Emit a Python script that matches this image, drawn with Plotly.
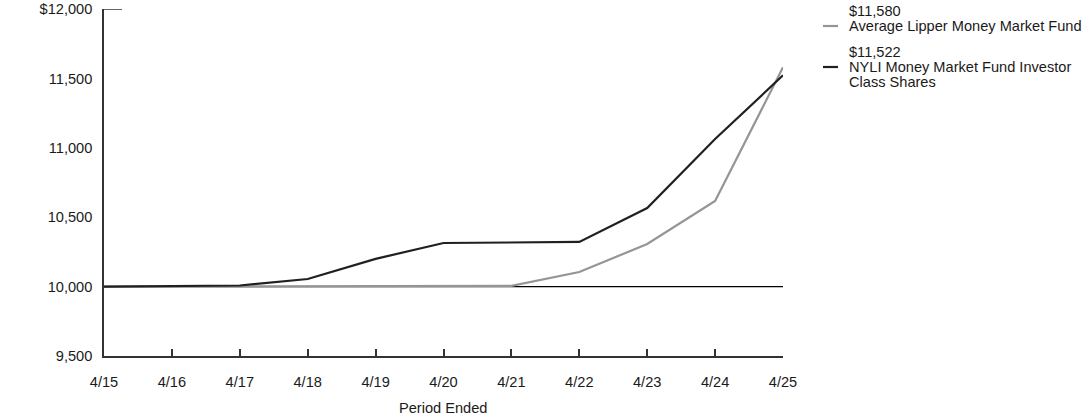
import plotly.graph_objects as go

# period labels along the x axis
periods = ["4/15", "4/16", "4/17", "4/18", "4/19", "4/20",
           "4/21", "4/22", "4/23", "4/24", "4/25"]

# growth of a $10,000 investment
nyli_name = "NYLI Money Market Fund Investor Class Shares"
nyli = [10000, 10002, 10008, 10055, 10200, 10314, 10319, 10322, 10566, 11063, 11522]

lipper_name = "Average Lipper Money Market Fund"
lipper = [10000, 10000, 10000, 10000, 10000, 10000, 10005, 10105, 10307, 10617, 11580]

y_ticks = [9500, 10000, 10500, 11000, 11500, 12000]
y_labels = ["9,500", "10,000", "10,500", "11,000", "11,500", "$12,000"]

W, H = 1092, 417
L, R, T, B = 104, 783, 9, 356  # plot area in pixels

DARK = "#231f20"
GREY = "#939598"
TEXT = "#1a1a1a"
FONT = "Liberation Sans, Arial, sans-serif"
FS = 14.6


def px(x):
    return (x - L) / (R - L)


def py(y):
    return (B - y) / (B - T)


x = list(range(len(periods)))

fig = go.Figure()
fig.add_trace(go.Scatter(x=x, y=lipper, mode="lines", name=lipper_name,
                         line=dict(color=GREY, width=2.2), showlegend=False))
fig.add_trace(go.Scatter(x=x, y=nyli, mode="lines", name=nyli_name,
                         line=dict(color=DARK, width=2.2), showlegend=False))

# baseline at 10,000 and the short cap at 12,000
fig.add_shape(type="line", xref="x", yref="y", x0=0, x1=x[-1], y0=10000, y1=10000,
              line=dict(color="black", width=1.2), layer="below")
fig.add_shape(type="line", xref="paper", yref="y", x0=0, x1=px(122), y0=12000, y1=12000,
              line=dict(color="#333333", width=1.5))

# hand-made legend
legend = [
    (lipper_name, lipper[-1], GREY, 11, [lipper_name]),
    (nyli_name, nyli[-1], DARK, 52, ["NYLI Money Market Fund Investor", "Class Shares"]),
]
for name, last, color, ytop, lines in legend:
    fig.add_shape(type="line", xref="paper", yref="paper",
                  x0=px(823), x1=px(838), y0=py(ytop + 15), y1=py(ytop + 15),
                  line=dict(color=color, width=2.2))
    rows = [f"${last:,}"] + lines
    for i, row in enumerate(rows):
        fig.add_annotation(text=row, xref="paper", yref="paper",
                           x=px(847), y=py(ytop + 15 * i), xanchor="left", yanchor="middle",
                           showarrow=False, font=dict(size=FS, color=TEXT, family=FONT))

# x axis title
fig.add_annotation(text="Period Ended", xref="paper", yref="paper",
                   x=px(443), y=py(408), xanchor="center", yanchor="middle",
                   showarrow=False, font=dict(size=FS, color=TEXT, family=FONT))

fig.update_layout(
    width=W, height=H,
    margin=dict(l=L, r=W - R, t=T, b=H - B, autoexpand=False),
    paper_bgcolor="white", plot_bgcolor="white",
    font=dict(family=FONT, size=FS, color=TEXT),
    showlegend=False,
)
fig.update_xaxes(
    range=[0, x[-1]], tickvals=x, ticktext=periods,
    showgrid=False, zeroline=False, automargin=False,
    showline=True, linecolor="#333333", linewidth=1.5,
    ticks="inside", ticklen=7, tickcolor="#333333", tickwidth=1.5,
    ticklabelstandoff=12,
)
fig.update_yaxes(
    range=[9500, 12000], tickvals=y_ticks, ticktext=y_labels,
    showgrid=False, zeroline=False, automargin=False,
    showline=True, linecolor="#333333", linewidth=1.5,
    ticks="", ticklabelstandoff=7,
)

# drop the browser's default body margin so the figure sits at the page corner
fig.write_html("out.html", config={"displayModeBar": False},
               post_script="document.body.style.margin = '0';")
